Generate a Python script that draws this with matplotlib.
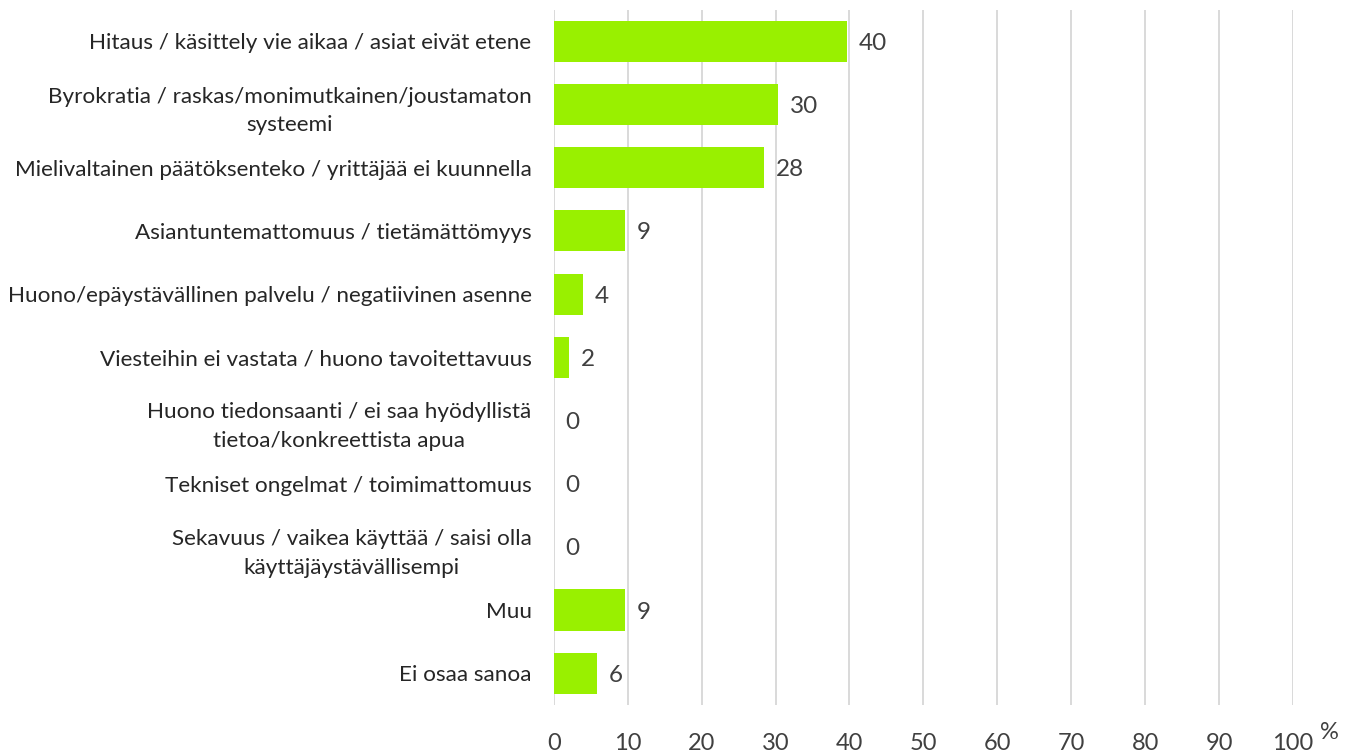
import matplotlib
matplotlib.use("Agg")
import matplotlib.pyplot as plt

plt.rcParams['font.family'] = ['Lato', 'DejaVu Sans']

categories = [
    "Hitaus / käsittely vie aikaa / asiat eivät etene",
    "Byrokratia / raskas/monimutkainen/joustamaton\nsysteemi",
    "Mielivaltainen päätöksenteko / yrittäjää ei kuunnella",
    "Asiantuntemattomuus / tietämättömyys",
    "Huono/epäystävällinen palvelu / negatiivinen asenne",
    "Viesteihin ei vastata / huono tavoitettavuus",
    "Huono tiedonsaanti / ei saa hyödyllistä\ntietoa/konkreettista apua",
    "Tekniset ongelmat / toimimattomuus",
    "Sekavuus / vaikea käyttää / saisi olla\nkäyttäjäystävällisempi",
    "Muu",
    "Ei osaa sanoa",
]
values = [39.7, 30.3, 28.4, 9.6, 3.9, 2.0, 0, 0, 0, 9.6, 5.8]
labels = ["40", "30", "28", "9", "4", "2", "0", "0", "0", "9", "6"]
xticks = list(range(0, 101, 10))

fig = plt.figure(figsize=(13.64, 7.53), dpi=100)
ax = fig.add_axes([0.406, 0.064, 0.542, 0.923])

pos = list(range(len(categories)))
ax.barh(pos, values, height=0.65, color="#99F000", zorder=2)
for p, v, lab in zip(pos, values, labels):
    ax.text(v + 1.6, p, lab, va="center_baseline", ha="left", fontsize=17.5, color="#404040")

ax.set_xlim(0, 100)
ax.set_ylim(len(categories) - 0.5, -0.5)
ax.set_xticks(xticks)
ax.set_yticks(pos)
ax.set_yticklabels(categories, fontsize=16.2, color="#262626",
                   multialignment="center", linespacing=1.55)
ax.tick_params(axis="y", length=0, pad=16)
ax.tick_params(axis="x", length=0, pad=20, labelsize=17, labelcolor="#404040")
ax.grid(axis="x", color="#CFCFCF", linewidth=1.1, zorder=0)
for s in ax.spines.values():
    s.set_visible(False)

ax.text(1.037, -0.04, "%", transform=ax.transAxes, fontsize=17, color="#404040",
        ha="left", va="center")

fig.savefig("out.png", dpi=100)
